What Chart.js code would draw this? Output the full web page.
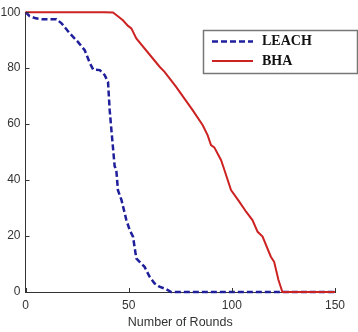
<!DOCTYPE html>
<html>
<head>
<meta charset="utf-8">
<script src="https://cdn.jsdelivr.net/npm/chart.js@4/dist/chart.umd.min.js"></script>
<style>
html,body{margin:0;padding:0;background:#fff;}
#wrap{width:358px;height:332px;}
</style>
</head>
<body>
<div id="wrap"><canvas id="c" width="358" height="332"></canvas></div>
<script>
const leachX = [0, 2, 5, 8, 15, 17.5, 21.5, 25.4, 28.7, 31.2, 32.8, 36, 38.4, 40, 40.8, 41.5, 43.2, 44, 44.8, 46.5, 48.9, 50.5, 52.1, 53.7, 55.3, 57.7, 60.1, 62.5, 64.9, 68.2, 70.6, 150];
const leachY = [100, 98.6, 97.8, 97.5, 97.5, 96, 92.4, 89.4, 86.4, 81.8, 79.5, 79.3, 77.5, 75, 65, 59, 45, 43.6, 36.4, 32.9, 25.7, 22.1, 19.8, 12, 10.8, 9, 5.5, 3.1, 1.9, 1, 0, 0];
const bhaX = [0, 38.4, 42.4, 44, 47.2, 49.7, 51.3, 53.7, 65, 67.4, 73, 81, 85.9, 88.3, 89.9, 91.5, 94.8, 96.4, 99.6, 103.6, 106.9, 110, 112.5, 114.9, 118.9, 120.5, 122.6, 124.5, 150];
const bhaY = [100, 100, 99.9, 99, 97.1, 95.1, 94.2, 90.6, 80.5, 78.7, 73.3, 65, 59.6, 56, 52.5, 51.7, 47.1, 43.6, 36.4, 32.3, 28.7, 25.7, 21.5, 19.8, 12.6, 10.8, 4.3, 0, 0];
const seriesNames = ['LEACH', 'BHA'];
const xTicks = [0, 50, 100, 150];
const yTicks = [0, 20, 40, 60, 80, 100];
const xTitle = 'Number of Rounds';

const toPts = (xs, ys) => xs.map((x, i) => ({x: x, y: ys[i]}));

const inwardTicks = {
  id: 'inwardTicks',
  afterDatasetsDraw(chart) {
    const ctx = chart.ctx, xs = chart.scales.x, ys = chart.scales.y;
    ctx.save();
    ctx.strokeStyle = '#333';
    ctx.lineWidth = 1;
    xTicks.forEach(v => {
      const px = Math.round(xs.getPixelForValue(v)) + 0.5;
      ctx.beginPath(); ctx.moveTo(px, ys.bottom); ctx.lineTo(px, ys.bottom - 4); ctx.stroke();
    });
    yTicks.forEach(v => {
      const py = Math.round(ys.getPixelForValue(v)) + 0.5;
      ctx.beginPath(); ctx.moveTo(xs.left, py); ctx.lineTo(xs.left + 4, py); ctx.stroke();
    });
    ctx.restore();
  }
};

const boxLegend = {
  id: 'boxLegend',
  afterDraw(chart) {
    const ctx = chart.ctx;
    ctx.save();
    const L = 203.5, T = 30.5, R = 357.5, B = 73.5;
    ctx.fillStyle = '#fff';
    ctx.fillRect(L, T, R - L, B - T);
    ctx.strokeStyle = '#777';
    ctx.lineWidth = 1.5;
    ctx.strokeRect(L, T, R - L, B - T);
    const rows = [41.5, 61];
    chart.data.datasets.forEach((ds, i) => {
      const y = rows[i];
      ctx.strokeStyle = ds.borderColor;
      ctx.lineWidth = ds.borderWidth;
      ctx.setLineDash(ds.borderDash || []);
      ctx.beginPath(); ctx.moveTo(212, y); ctx.lineTo(253, y); ctx.stroke();
      ctx.setLineDash([]);
      ctx.fillStyle = '#111';
      ctx.font = 'bold 14px "Liberation Serif", "Times New Roman", serif';
      ctx.textBaseline = 'middle';
      ctx.textAlign = 'left';
      ctx.fillText(ds.label, 262, y);
    });
    ctx.restore();
  }
};

new Chart(document.getElementById('c'), {
  type: 'line',
  data: {
    datasets: [
      {
        label: seriesNames[0],
        data: toPts(leachX, leachY),
        borderColor: '#1f1f9c',
        borderWidth: 2.5,
        borderDash: [6, 3],
        pointRadius: 0,
        tension: 0,
        fill: false,
        clip: 6,
        order: 1
      },
      {
        label: seriesNames[1],
        data: toPts(bhaX, bhaY),
        borderColor: '#cc2222',
        borderWidth: 2,
        pointRadius: 0,
        tension: 0,
        fill: false,
        clip: 6,
        order: 0
      }
    ]
  },
  options: {
    responsive: false,
    animation: false,
    events: [],
    layout: { padding: { top: 12, right: 23, left: 0, bottom: 2 } },
    plugins: { legend: { display: false }, tooltip: { enabled: false } },
    scales: {
      x: {
        type: 'linear',
        min: 0, max: 150,
        afterBuildTicks: s => { s.ticks = xTicks.map(v => ({value: v})); },
        afterFit: s => { s.height = 38; },
        grid: { display: true, drawOnChartArea: false, drawTicks: false },
        border: { display: true, color: '#333', width: 1 },
        ticks: { color: '#333', padding: 6, maxRotation: 0, font: { family: '"Liberation Sans", Arial, sans-serif', size: 12 } },
        title: { display: true, text: xTitle, color: '#333', padding: { top: 0, bottom: 0 }, font: { family: '"Liberation Sans", Arial, sans-serif', size: 12.5 } }
      },
      y: {
        type: 'linear',
        min: 0, max: 100,
        afterBuildTicks: s => { s.ticks = yTicks.map(v => ({value: v})); },
        afterFit: s => { s.width = 25.5; },
        grid: { display: true, drawOnChartArea: false, drawTicks: false },
        border: { display: true, color: '#333', width: 1 },
        ticks: { color: '#333', padding: 5, font: { family: '"Liberation Sans", Arial, sans-serif', size: 12 } }
      }
    }
  },
  plugins: [inwardTicks, boxLegend]
});
</script>
</body>
</html>
